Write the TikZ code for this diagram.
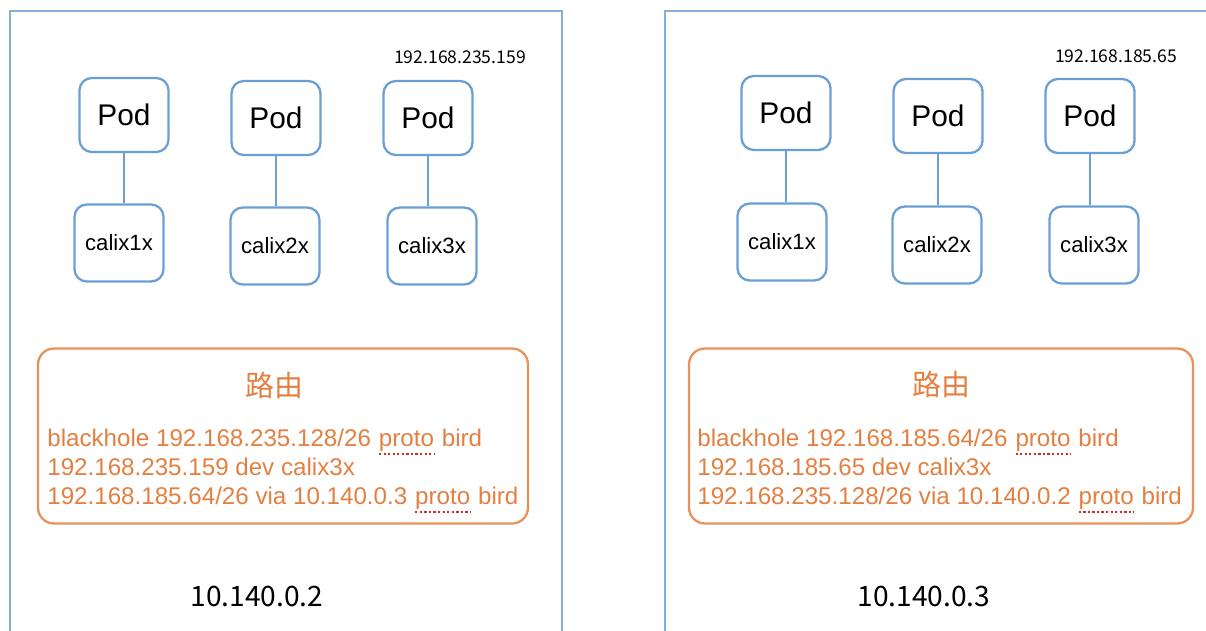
\documentclass[tikz,border=0pt]{standalone}
\usepackage{fontspec}
\setmainfont{Liberation Sans}
\newfontfamily\cjk{Noto Sans CJK SC}
\usetikzlibrary{positioning}
\definecolor{podblue}{HTML}{6A9FD6}
\definecolor{hostblue}{HTML}{86AFD8}
\definecolor{routeline}{HTML}{E8925A}
\definecolor{routetext}{HTML}{E37F40}
\definecolor{typored}{HTML}{D42A2A}
% spell-check squiggle under a word
\newcommand{\typo}[1]{\tikz[baseline=(w.base)]{\node[inner sep=0pt,outer sep=0pt](w){#1};\draw[typored,line width=1.3pt,dash pattern=on 1.3pt off 1.3pt]([yshift=-1.5pt]w.south west)--([yshift=-1.5pt]w.south east);}}
\tikzset{
  host/.style={draw=hostblue,line width=1.2pt},
  pod/.style={draw=podblue,line width=1.3pt,rounded corners=7pt,minimum width=1.78cm,minimum height=1.48cm,inner sep=0pt,font=\fontsize{17}{20}\selectfont},
  veth/.style={pod,minimum height=1.54cm,font=\fontsize{12.6}{15}\selectfont},
  link/.style={draw=podblue,line width=1.2pt},
  routes/.style={draw=routeline,line width=1.3pt,rounded corners=9pt,minimum height=3.5cm},
  routetitle/.style={text=routetext,inner sep=0pt,font=\cjk\fontsize{16.5}{20}\selectfont},
  routeline/.style={text=routetext,anchor=base west,inner sep=0pt,font=\fontsize{13.75}{16.5}\selectfont},
  podip/.style={inner sep=0pt,font=\cjk\fontsize{10}{12}\selectfont},
  nodeip/.style={inner sep=0pt,font=\cjk\fontsize{16}{19}\selectfont}
}
\begin{document}
\begin{tikzpicture}[x=0.02cm,y=-0.02cm]
  \useasboundingbox (0,0) rectangle (1206,630);

  % host 10.140.0.2
  \draw[host] (10,640) -- (10,11) -- (562,11) -- (562,640);
  \node[podip] (ipA) at (460,57) {192.168.235.159};
  \node[pod] (podA1) at (124,115) {Pod};
  \node[pod] (podA2) at (276,118) {Pod};
  \node[pod] (podA3) at (428,118) {Pod};
  \node[veth] (calA1) at (119,243) {calix1x};
  \node[veth] (calA2) at (275,246) {calix2x};
  \node[veth] (calA3) at (432,246) {calix3x};
  \draw[link] (podA1.south) -- (podA1.south |- calA1.north);
  \draw[link] (podA2.south) -- (podA2.south |- calA2.north);
  \draw[link] (podA3.south) -- (podA3.south |- calA3.north);
  \node[routes,minimum width=9.8cm] (routesA) at (283,436) {};
  \node[routetitle] (titleA) at (274,385) {路由};
  \node[routeline] (rA1) at (47,446) {blackhole 192.168.235.128/26 \typo{proto} bird};
  \node[routeline] (rA2) at (47,475) {192.168.235.159 dev calix3x};
  \node[routeline] (rA3) at (47,504) {192.168.185.64/26 via 10.140.0.3 \typo{proto} bird};
  \node[nodeip] (hostA) at (257,596) {10.140.0.2};

  % host 10.140.0.3
  \draw[host] (665,640) -- (665,11) -- (1212,11);
  \node[podip] (ipB) at (1116,56) {192.168.185.65};
  \node[pod] (podB1) at (786,113) {Pod};
  \node[pod] (podB2) at (938,116) {Pod};
  \node[pod] (podB3) at (1090,116) {Pod};
  \node[veth] (calB1) at (782,242) {calix1x};
  \node[veth] (calB2) at (937,245) {calix2x};
  \node[veth] (calB3) at (1094,245) {calix3x};
  \draw[link] (podB1.south) -- (podB1.south |- calB1.north);
  \draw[link] (podB2.south) -- (podB2.south |- calB2.north);
  \draw[link] (podB3.south) -- (podB3.south |- calB3.north);
  \node[routes,minimum width=10.08cm] (routesB) at (941,436) {};
  \node[routetitle] (titleB) at (941,384) {路由};
  \node[routeline] (rB1) at (697,446) {blackhole 192.168.185.64/26 \typo{proto} bird};
  \node[routeline] (rB2) at (697,475) {192.168.185.65 dev calix3x};
  \node[routeline] (rB3) at (697,504) {192.168.235.128/26 via 10.140.0.2 \typo{proto} bird};
  \node[nodeip] (hostB) at (924,596) {10.140.0.3};
\end{tikzpicture}
\end{document}
